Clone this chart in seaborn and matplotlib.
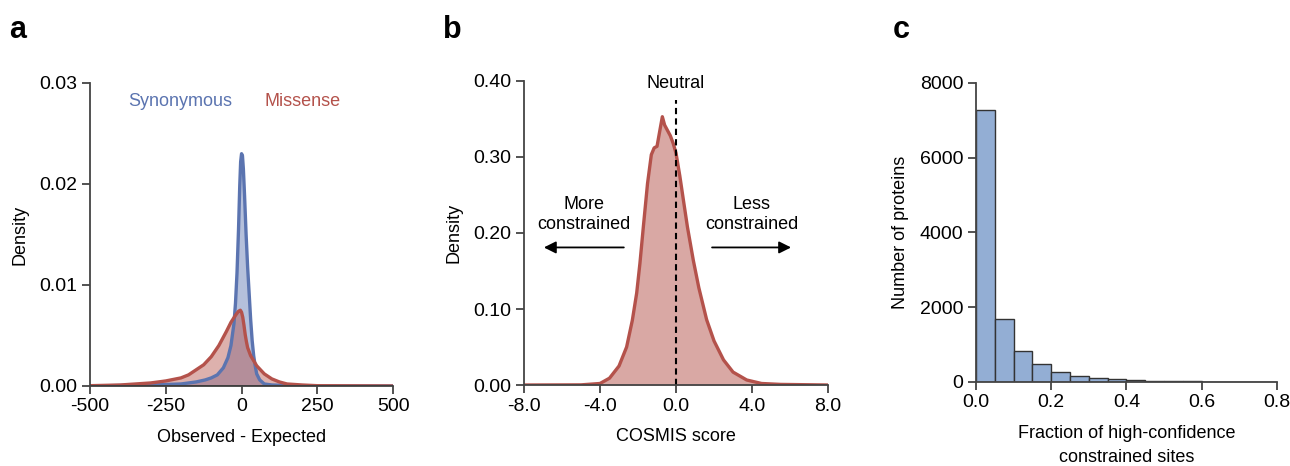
import numpy as np
import pandas as pd
import matplotlib
matplotlib.use("Agg")
import matplotlib.pyplot as plt
import seaborn as sns

# --- DATA ---
# panel a: density curves of observed - expected
syn_x = [-500, -300, -200, -150, -120, -100, -80, -60, -45, -35, -25, -20, -15, -10, -6, -3,
         0, 3, 6, 10, 15, 20, 25, 30, 35, 40, 45, 50, 60, 75, 100, 200, 500]
syn_y = [0.0, 0.0001, 0.0002, 0.0004, 0.0006, 0.0008, 0.0011, 0.0018, 0.0028, 0.004, 0.0062,
         0.0082, 0.0112, 0.0155, 0.0198, 0.0222, 0.0230, 0.0228, 0.0215, 0.0188, 0.0150,
         0.0118, 0.0092, 0.0066, 0.0045, 0.0030, 0.0020, 0.0012, 0.0006, 0.0002, 0.0001,
         0.0, 0.0]
mis_x = [-500, -400, -300, -250, -200, -175, -150, -125, -100, -75, -50, -35, -20, -10, -4,
         0, 4, 8, 12, 16, 20, 30, 40, 50, 75, 100, 125, 150, 200, 250, 500]
mis_y = [0.00003, 0.0001, 0.0003, 0.0005, 0.0008, 0.0011, 0.0016, 0.0021, 0.0029, 0.0040,
         0.0054, 0.0063, 0.0070, 0.0074, 0.0075, 0.0073, 0.0068, 0.0060, 0.0051, 0.0044,
         0.0038, 0.0030, 0.0025, 0.0020, 0.0012, 0.0007, 0.0004, 0.0002, 0.0001, 0.00003,
         0.0]

# panel b: COSMIS score density
cos_x = [-8, -5, -4.0, -3.5, -3.0, -2.6, -2.3, -2.07, -1.9, -1.72, -1.5, -1.3, -1.15, -1.0,
         -0.85, -0.72, -0.6, -0.45, -0.3, -0.15, 0.0, 0.2, 0.39, 0.6, 0.91, 1.2, 1.61, 2.0,
         2.5, 3.0, 3.72, 4.5, 5.5, 8]
cos_y = [0.0, 0.0002, 0.002, 0.009, 0.025, 0.050, 0.085, 0.121, 0.160, 0.208, 0.265, 0.303,
         0.312, 0.314, 0.335, 0.353, 0.342, 0.335, 0.328, 0.318, 0.305, 0.275, 0.243, 0.208,
         0.164, 0.128, 0.086, 0.058, 0.033, 0.017, 0.0066, 0.002, 0.0008, 0.0]

# panel c: histogram of fraction of constrained sites
bin_edges = [0.0, 0.05, 0.1, 0.15, 0.2, 0.25, 0.3, 0.35, 0.4, 0.45, 0.5, 0.55, 0.6, 0.65,
             0.7, 0.75, 0.8]
bin_counts = [7270, 1675, 820, 472, 258, 160, 98, 71, 45, 36, 27, 18, 12, 9, 5, 2]

BLUE = "#5b74b0"
RED = "#b4524b"
BAR = "#93aed4"

sns.set_style("ticks")
plt.rcParams["font.family"] = ["Liberation Sans", "DejaVu Sans"]
plt.rcParams["axes.edgecolor"] = "#444444"
plt.rcParams["axes.linewidth"] = 1.3
plt.rcParams["xtick.color"] = "#444444"
plt.rcParams["ytick.color"] = "#444444"
plt.rcParams["xtick.labelcolor"] = "black"
plt.rcParams["ytick.labelcolor"] = "black"
plt.rcParams["text.color"] = "black"
plt.rcParams["axes.labelcolor"] = "black"
plt.rcParams["lines.solid_joinstyle"] = "round"

fig = plt.figure(figsize=(12.9, 4.66), dpi=100)
ax_a = fig.add_axes([0.0698, 0.1717, 0.2349, 0.6502])
ax_b = fig.add_axes([0.4062, 0.1738, 0.2357, 0.6524])
ax_c = fig.add_axes([0.7566, 0.1803, 0.2333, 0.6416])

TICK = 14
LAB = 13

# --- a ---
ax_a.fill_between(syn_x, syn_y, color=BLUE, alpha=0.45, lw=0)
sns.lineplot(x=syn_x, y=syn_y, ax=ax_a, color=BLUE, lw=2.4)
ax_a.fill_between(mis_x, mis_y, color=RED, alpha=0.45, lw=0)
sns.lineplot(x=mis_x, y=mis_y, ax=ax_a, color=RED, lw=2.4)
ax_a.axhline(0, color="black", lw=1.3)
ax_a.set_xlim(-500, 500)
ax_a.set_ylim(0, 0.03)
ax_a.set_xticks([-500, -250, 0, 250, 500])
ax_a.set_xticklabels(["-500", "-250", "0", "250", "500"])
ax_a.set_yticks([0, 0.01, 0.02, 0.03])
ax_a.set_yticklabels(["0.00", "0.01", "0.02", "0.03"])
ax_a.set_xlabel("Observed - Expected", fontsize=LAB, labelpad=10)
ax_a.set_ylabel("Density", fontsize=LAB, labelpad=8)
ax_a.text(-203, 0.0282, "Synonymous", color=BLUE, fontsize=13, ha="center", va="center")
ax_a.text(200, 0.0282, "Missense", color=RED, fontsize=13, ha="center", va="center")

# --- b ---
ax_b.fill_between(cos_x, cos_y, color=RED, alpha=0.5, lw=0)
sns.lineplot(x=cos_x, y=cos_y, ax=ax_b, color=RED, lw=2.4)
ax_b.plot([0, 0], [0, 0.375], color="black", ls=(0, (3, 2)), lw=1.5)
ax_b.text(0, 0.397, "Neutral", fontsize=LAB, ha="center", va="center")
ax_b.text(-4.84, 0.224, "More\nconstrained", fontsize=LAB, ha="center", va="center",
          linespacing=1.25)
ax_b.text(3.98, 0.224, "Less\nconstrained", fontsize=LAB, ha="center", va="center",
          linespacing=1.25)
ax_b.annotate("", xy=(-7.1, 0.181), xytext=(-2.6, 0.181),
              arrowprops=dict(arrowstyle="-|>", color="black", lw=1.3, mutation_scale=18))
ax_b.annotate("", xy=(6.2, 0.181), xytext=(1.75, 0.181),
              arrowprops=dict(arrowstyle="-|>", color="black", lw=1.3, mutation_scale=18))
ax_b.set_xlim(-8, 8)
ax_b.set_ylim(0, 0.40)
ax_b.set_xticks([-8, -4, 0, 4, 8])
ax_b.set_xticklabels(["-8.0", "-4.0", "0.0", "4.0", "8.0"])
ax_b.set_yticks([0, 0.1, 0.2, 0.3, 0.4])
ax_b.set_yticklabels(["0.00", "0.10", "0.20", "0.30", "0.40"])
ax_b.set_xlabel("COSMIS score", fontsize=LAB, labelpad=10)
ax_b.set_ylabel("Density", fontsize=LAB, labelpad=8)

# --- c ---
centers = [(bin_edges[i] + bin_edges[i + 1]) / 2 for i in range(len(bin_counts))]
hist_df = pd.DataFrame({"frac": centers, "n": bin_counts})
sns.histplot(data=hist_df, x="frac", weights="n", bins=bin_edges, ax=ax_c,
             color=BAR, alpha=1.0, edgecolor="#333333", linewidth=1.0)
ax_c.set_xlim(0, 0.8)
ax_c.set_ylim(0, 8000)
ax_c.set_xticks([0, 0.2, 0.4, 0.6, 0.8])
ax_c.set_xticklabels(["0.0", "0.2", "0.4", "0.6", "0.8"])
ax_c.set_yticks([0, 2000, 4000, 6000, 8000])
ax_c.set_xlabel("Fraction of high-confidence\nconstrained sites", fontsize=LAB,
                labelpad=10, linespacing=1.5)
ax_c.set_ylabel("Number of proteins", fontsize=LAB, labelpad=8)

for ax in (ax_a, ax_b, ax_c):
    sns.despine(ax=ax)
    ax.tick_params(labelsize=TICK, length=6, width=1.3, pad=3)

fig.text(0.014, 0.935, "a", fontsize=22, fontweight="bold", ha="center", va="center")
fig.text(0.351, 0.935, "b", fontsize=22, fontweight="bold", ha="center", va="center")
fig.text(0.699, 0.935, "c", fontsize=22, fontweight="bold", ha="center", va="center")

fig.savefig("out.png", dpi=100, facecolor="white")
